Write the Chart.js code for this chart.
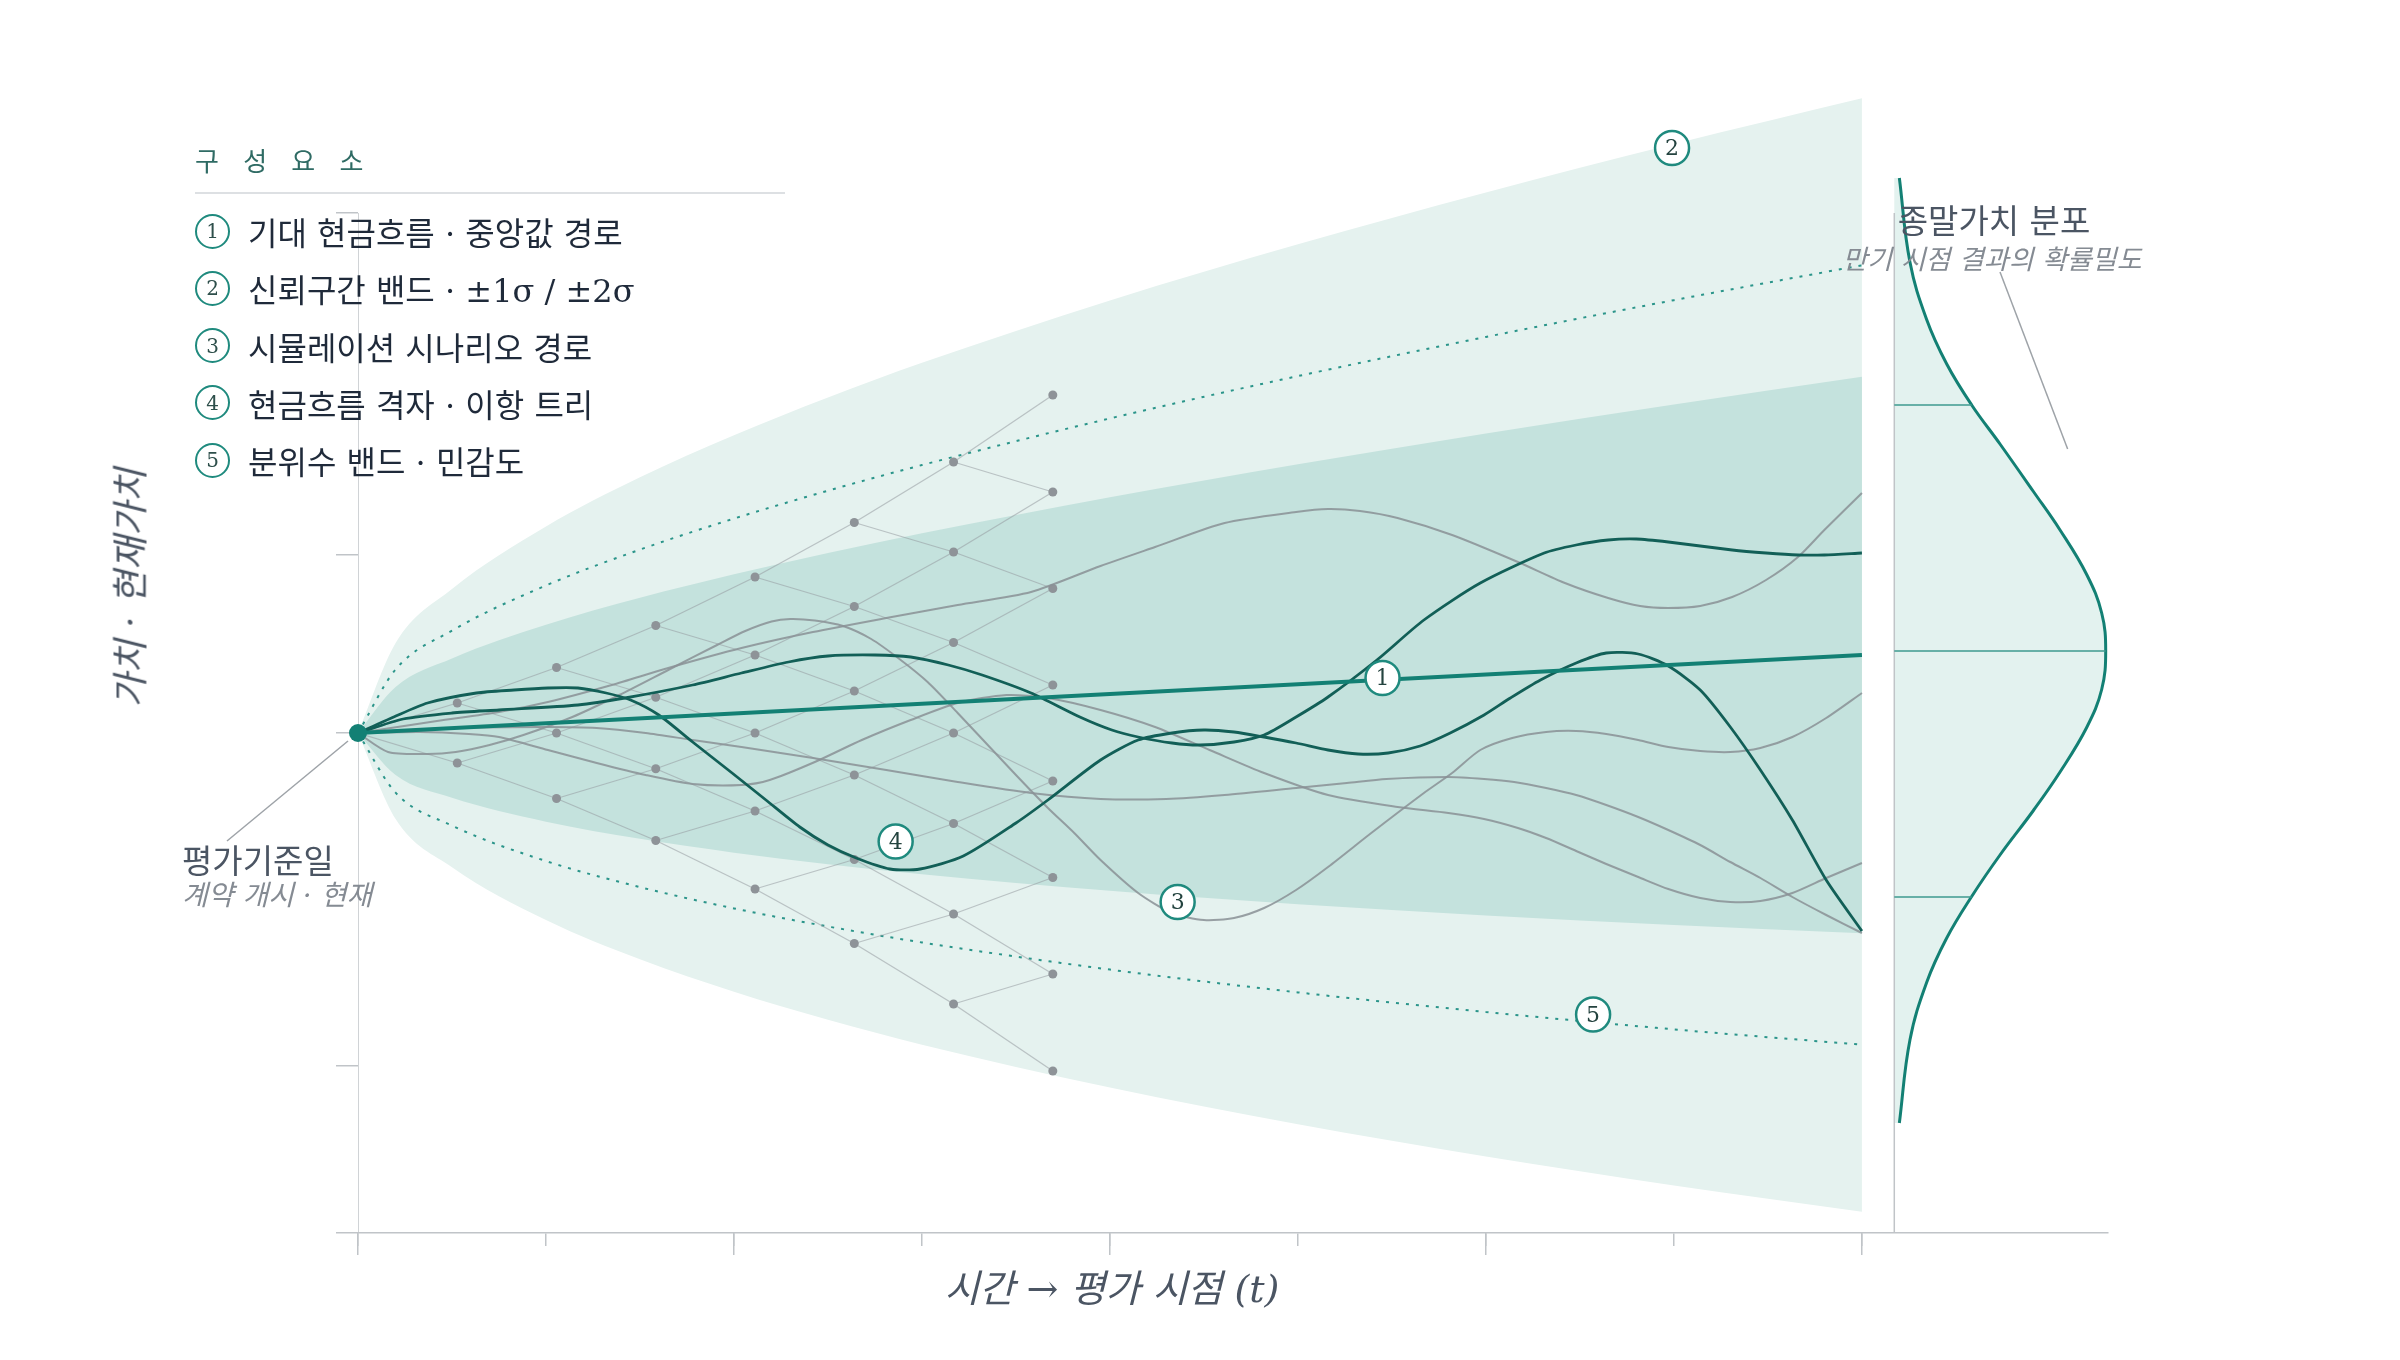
<!DOCTYPE html>
<html lang="ko">
<head>
<meta charset="utf-8">
<title>현금흐름 시뮬레이션 · 종말가치 분포</title>
<script src="https://cdn.jsdelivr.net/npm/chart.js@4.4.1/dist/chart.umd.min.js"></script>
<style>
  html, body { margin: 0; padding: 0; background: #fff; }
  #wrap { position: relative; width: 2400px; height: 1360px; overflow: hidden;
          font-family: 'DejaVu Serif', 'Noto Sans CJK KR', serif; }
  #chart { position: absolute; left: 0; top: 0; }
  .txt { position: absolute; white-space: nowrap; line-height: 1; }
  .row { position: absolute; left: 195px; height: 36px; display: flex; align-items: center; transform: translateY(-50%); }
  .row .num { width: 31px; height: 31px; border: 2.5px solid #1f8a7e; border-radius: 50%;
              display: flex; align-items: center; justify-content: center;
              font-size: 20px; color: #2e4f4b; background: #fff; }
  .row .lbl { margin-left: 18px; font-size: 32px; color: #1f2a3a; }
  .mk { position: absolute; transform: translate(-50%, -52%); font-size: 22px; color: #24433f; line-height: 1; }
</style>
</head>
<body>
<div id="wrap">
  <canvas id="chart" width="2400" height="1360"></canvas>

  <div class="txt" style="left:195px; top:162px; transform:translateY(-50%); font-size:26px; letter-spacing:8px; color:#2f6b64;">구 성 요 소</div>
  <div style="position:absolute; left:195px; top:192px; width:590px; height:2px; background:#dde0e3;"></div>

  <div class="txt" style="left:131px; top:588px; transform:translate(-50%,-50%) rotate(-90deg); font-size:37px; font-style:italic; color:#4b5563;">가치 · 현재가치</div>
  <div class="txt" style="left:1112px; top:1289px; transform:translate(-50%,-50%); font-size:38px; font-style:italic; color:#4b5563;">시간 → 평가 시점 (t)</div>

  <div class="txt" style="left:182px; top:861px; transform:translateY(-50%); font-size:33px; color:#4b5563;">평가기준일</div>
  <div class="txt" style="left:182px; top:896px; transform:translateY(-50%); font-size:28px; font-style:italic; color:#858b93;">계약 개시 · 현재</div>

  <div class="txt" style="left:1994px; top:221px; transform:translate(-50%,-50%); font-size:33px; color:#4b5563;">종말가치 분포</div>
  <div class="txt" style="left:1992px; top:259px; transform:translate(-50%,-50%); font-size:27px; font-style:italic; color:#858b93;">만기 시점 결과의 확률밀도</div>
</div>

<script>
// legend entries
const legendItems = [
  '기대 현금흐름 · 중앙값 경로',
  '신뢰구간 밴드 · ±1σ / ±2σ',
  '시뮬레이션 시나리오 경로',
  '현금흐름 격자 · 이항 트리',
  '분위수 밴드 · 민감도'
];

// axes
const xTicks = [0, 1, 2, 3, 4, 5, 6, 7, 8];
const xMajorTicks = [0, 2, 4, 6, 8];
const yTicks = [0, 33.4, 100, 135.6, 204];
const yAxisTop = 204;

// bands: time grid and boundaries
const bandTimes = [0, 0.2, 0.5, 1, 1.5, 2, 2.5, 3, 4, 5, 6, 7, 8];
const outerUpper = [100, 117.99, 128.81, 141.31, 151.13, 159.56, 167.11, 174.03, 186.52, 197.76, 208.11, 217.79, 226.93];
const outerLower = [100, 82.79, 73.15, 62.59, 54.73, 48.24, 42.65, 37.67, 29.08, 21.74, 15.29, 9.51, 4.27];
const innerUpper = [100, 109.19, 114.90, 121.63, 127.03, 131.73, 136.00, 139.94, 147.16, 153.76, 159.91, 165.72, 171.26];
const innerLower = [100, 91.59, 87.06, 82.27, 78.83, 76.07, 73.76, 71.76, 68.44, 65.74, 63.49, 61.58, 59.94];
const quantUpper = [100, 112.71, 120.47, 129.51, 136.68, 142.88, 148.46, 153.59, 162.92, 171.38, 179.21, 186.57, 193.55];
const quantLower = [100, 88.07, 81.49, 74.39, 69.18, 64.92, 61.30, 58.11, 52.68, 48.12, 44.19, 40.73, 37.65];

// expected (median) path
const medianTimes = [0, 8];
const medianValues = [100, 115.6];

// binomial lattice
const treeTimes = [0, 0.528, 1.056, 1.584, 2.112, 2.64, 3.168, 3.696];
const treeLevels = [
  [100],
  [106.0, 94.0],
  [113.1, 100, 86.9],
  [121.5, 107.15, 92.85, 78.5],
  [131.2, 115.6, 100, 84.4, 68.8],
  [142.1, 125.3, 108.4, 91.6, 74.7, 57.9],
  [154.2, 136.2, 118.1, 100, 81.9, 63.8, 45.8],
  [167.6, 148.2, 128.9, 109.6, 90.4, 71.1, 51.8, 32.4]
];

// simulated scenarios [t, value]
const pathA = [[0,100],[0.19,103.2],[0.37,106.0],[0.63,108.0],[0.83,108.6],[1.01,109.0],[1.17,109.0],[1.32,108.0],[1.45,106.6],[1.60,103.6],[1.78,98.2],[1.99,92.0],[2.17,86.6],[2.35,81.2],[2.50,77.6],[2.65,75.0],[2.83,72.8],[2.99,72.8],[3.22,75.4],[3.50,82.0],[3.67,86.6],[3.95,94.6],[4.15,98.6],[4.33,100.0],[4.50,100.6],[4.66,100.2],[4.82,99.2],[4.99,98.0],[5.16,96.6],[5.32,95.8],[5.48,96.0],[5.65,97.4],[5.81,100.0],[5.99,103.6],[6.13,107.0],[6.29,110.6],[6.48,114.0],[6.64,116.0],[6.81,115.8],[6.97,113.4],[7.14,108.6],[7.30,101.2],[7.46,92.6],[7.63,82.6],[7.81,70.6],[8,60.4]];
const pathB = [[0,100],[0.24,102.8],[0.50,104.0],[0.75,104.6],[1.17,105.6],[1.42,107.0],[1.78,109.6],[2.04,112.0],[2.29,114.2],[2.50,115.4],[2.75,115.6],[2.94,115.2],[3.14,113.6],[3.32,111.6],[3.58,108.0],[3.84,103.2],[4.01,100.6],[4.15,99.2],[4.33,98.0],[4.48,97.6],[4.66,98.2],[4.82,99.6],[4.99,103.2],[5.16,107.2],[5.42,114.6],[5.67,122.6],[5.97,130.0],[6.31,136.0],[6.48,137.6],[6.65,138.6],[6.80,138.8],[6.97,138.2],[7.31,136.6],[7.49,136.0],[7.66,135.6],[7.80,135.6],[8,136.0]];
const scenario1 = [[0,100],[0.42,102.4],[0.75,104.2],[1.01,106.2],[1.35,109.6],[1.65,113.0],[2.04,117.0],[2.42,120.2],[2.81,123.0],[3.19,125.6],[3.58,128.2],[3.95,133.4],[4.24,137.2],[4.61,142.0],[4.99,144.2],[5.16,144.8],[5.33,144.4],[5.53,143.0],[5.82,139.6],[6.17,134.2],[6.42,130.0],[6.65,127.0],[6.82,125.4],[6.97,125.0],[7.14,125.4],[7.31,127.2],[7.49,130.6],[7.66,135.2],[7.80,140.6],[8,148.0]];
const scenario2 = [[0,100],[0.33,100.2],[0.59,99.8],[0.75,99.2],[1.01,96.6],[1.27,94.0],[1.53,91.6],[1.78,89.8],[2.04,89.6],[2.19,90.6],[2.43,94.2],[2.68,98.6],[2.94,102.6],[3.19,106.0],[3.45,107.6],[3.67,107.0],[3.95,104.6],[4.24,101.2],[4.53,96.6],[4.82,92.0],[5.16,87.6],[5.53,85.2],[5.80,84.0],[5.99,82.8],[6.17,81.0],[6.32,79.0],[6.48,76.4],[6.64,73.8],[6.81,71.2],[6.97,68.8],[7.14,67.0],[7.30,66.2],[7.46,66.4],[7.63,68.0],[7.81,71.0],[8,74.0]];
const scenario3 = [[0,100],[0.50,101.0],[1.01,101.2],[1.27,101.0],[1.53,100.0],[1.78,98.6],[2.04,97.2],[2.42,95.0],[2.81,92.6],[3.19,90.2],[3.58,88.0],[3.95,86.8],[4.30,86.8],[4.61,87.6],[4.99,89.0],[5.26,90.0],[5.47,90.8],[5.80,91.2],[5.99,90.8],[6.15,90.2],[6.32,89.0],[6.48,87.6],[6.64,85.6],[6.81,83.2],[6.97,80.6],[7.14,77.6],[7.30,74.2],[7.46,71.0],[7.63,67.2],[7.81,63.6],[8,60.0]];
const scenario4 = [[0,100],[0.16,96.2],[0.37,95.8],[0.52,96.2],[0.70,97.6],[0.88,99.6],[1.14,103.2],[1.39,107.6],[1.65,112.6],[1.91,117.6],[2.06,120.4],[2.20,122.3],[2.30,122.8],[2.43,122.5],[2.58,121.4],[2.73,118.8],[2.88,114.8],[3.03,110.2],[3.19,104.0],[3.35,97.6],[3.51,91.2],[3.67,85.0],[3.81,80.0],[3.95,74.6],[4.15,68.0],[4.33,64.0],[4.50,62.6],[4.66,63.0],[4.82,65.0],[4.99,68.6],[5.16,73.2],[5.39,80.0],[5.67,88.0],[5.82,92.0],[5.97,96.6],[6.14,99.0],[6.32,100.2],[6.48,100.4],[6.64,99.8],[6.81,98.6],[6.97,97.2],[7.14,96.4],[7.30,96.2],[7.46,97.0],[7.63,99.2],[7.81,103.0],[8,108.0]];

// terminal density (value level -> relative density)
const densityLevels = [211, 194.2, 182.7, 173.8, 165.6, 157.8, 148.3, 140.6, 131.7, 124, 116.4, 108.7, 101.1, 92.2, 84.5, 75.6, 67.3, 59, 50.1, 38.6, 22];
const densityValues = [0.024, 0.074, 0.153, 0.248, 0.366, 0.5, 0.658, 0.784, 0.91, 0.981, 1, 0.981, 0.91, 0.784, 0.658, 0.5, 0.366, 0.248, 0.153, 0.074, 0.024];
const densityGuideLevels = [165.6, 116.4, 67.2];
const densityGuideValues = [0.366, 1, 0.366];

// numbered callouts on the chart
const markerLabels = ['1', '2', '3', '4', '5'];
const markerTimes = [5.45, 6.99, 4.36, 2.86, 6.57];
const markerValues = [111.0, 217.0, 66.2, 78.3, 43.7];

const TEAL = '#138074';
const DARK = '#125f57';
const AXIS = '#c0c4c8';

const zip = (ts, vs) => ts.map((t, i) => ({ x: t, y: vs[i] }));
const pairs = arr => arr.map(([t, v]) => ({ x: t, y: v }));

const treeEdges = [];
for (let k = 0; k < treeLevels.length - 1; k++) {
  treeLevels[k].forEach((v, j) => {
    [j, j + 1].forEach(c => {
      treeEdges.push({ x: treeTimes[k], y: v }, { x: treeTimes[k + 1], y: treeLevels[k + 1][c] }, { x: null, y: null });
    });
  });
}
const treeNodes = treeTimes.flatMap((t, k) => treeLevels[k].map(v => ({ x: t, y: v })));

const densityGuides = [];
densityGuideLevels.forEach((lv, i) => {
  densityGuides.push({ x: 0, y: lv }, { x: densityGuideValues[i], y: lv }, { x: null, y: null });
});

const band = (data, extra) => Object.assign({ data, borderWidth: 0, pointRadius: 0, fill: false, cubicInterpolationMode: 'monotone' }, extra);
const grayPath = data => ({ data: pairs(data), borderColor: 'rgba(138,144,149,0.85)', borderWidth: 2, tension: 0.25, order: 14 });

const datasets = [
  band(zip(bandTimes, outerUpper), { fill: '+1', backgroundColor: '#e5f2ef', order: 20 }),
  band(zip(bandTimes, outerLower), { order: 20 }),
  band(zip(bandTimes, innerUpper), { fill: '+1', backgroundColor: '#c4e2dd', order: 19 }),
  band(zip(bandTimes, innerLower), { order: 19 }),
  band(zip(bandTimes, quantUpper), { borderWidth: 2, borderColor: '#2b958a', borderDash: [3, 7], order: 18 }),
  band(zip(bandTimes, quantLower), { borderWidth: 2, borderColor: '#2b958a', borderDash: [3, 7], order: 18 }),
  { data: densityLevels.map((lv, i) => ({ x: densityValues[i], y: lv })), xAxisID: 'xd', indexAxis: 'y',
    fill: 'origin', backgroundColor: '#e3f2ef', borderColor: TEAL, borderWidth: 3, tension: 0.4, order: 18 },
  { data: densityGuides, xAxisID: 'xd', borderColor: '#3f9a90', borderWidth: 1.5, order: 17 },
  { data: [{ x: 0, y: 0 }, { x: 0, y: yAxisTop }], xAxisID: 'xd', borderColor: AXIS, borderWidth: 1.5, order: 17 },
  { data: [{ x: 0, y: 0 }, { x: 0, y: yAxisTop }], borderColor: AXIS, borderWidth: 1.5, order: 17 },
  { data: treeEdges, borderColor: 'rgba(150,155,160,0.55)', borderWidth: 1.3, order: 16 },
  { data: treeNodes, showLine: false, pointRadius: 4.5, pointBackgroundColor: '#8e9398', pointBorderWidth: 0, order: 15 },
  grayPath(scenario1), grayPath(scenario2), grayPath(scenario3), grayPath(scenario4),
  { data: pairs(pathA), borderColor: DARK, borderWidth: 2.8, tension: 0.25, order: 13 },
  { data: pairs(pathB), borderColor: DARK, borderWidth: 2.8, tension: 0.25, order: 13 },
  { data: zip(medianTimes, medianValues), borderColor: TEAL, borderWidth: 4, order: 12 },
  { data: [{ x: medianTimes[0], y: medianValues[0] }], showLine: false, pointRadius: 9,
    pointBackgroundColor: TEAL, pointBorderWidth: 0, clip: false, order: 11 },
  { data: zip(markerTimes, markerValues), showLine: false, pointRadius: 17, pointBackgroundColor: '#fff',
    pointBorderColor: '#1f8a7e', pointBorderWidth: 2.5, clip: false, order: 10 }
];
const MARKER_SET = datasets.length - 1;

// leader lines from the text notes to the chart
const originCallout = [0, 100];
const densityCallout = [0.82, 156.8];
const leaders = {
  id: 'leaders',
  afterDatasetsDraw(chart) {
    const { ctx, scales } = chart;
    ctx.save();
    ctx.strokeStyle = '#9ea3a8';
    ctx.lineWidth = 1.5;
    const ox = scales.x.getPixelForValue(originCallout[0]);
    const oy = scales.y.getPixelForValue(originCallout[1]);
    ctx.beginPath();
    ctx.moveTo(227, 841);
    ctx.lineTo(ox - 10, oy + 8);
    ctx.stroke();
    ctx.beginPath();
    ctx.moveTo(2000, 272);
    ctx.lineTo(scales.xd.getPixelForValue(densityCallout[0]), scales.y.getPixelForValue(densityCallout[1]));
    ctx.stroke();
    ctx.restore();
  }
};

const setTicks = list => scale => { scale.ticks = list.map(v => ({ value: v })); };

const chart = new Chart(document.getElementById('chart'), {
  type: 'line',
  data: { datasets },
  options: {
    responsive: false,
    devicePixelRatio: 1,
    animation: false,
    events: [],
    layout: { padding: { top: 58, right: 292, bottom: 0, left: 0 } },
    elements: { point: { radius: 0 }, line: { tension: 0 } },
    plugins: { legend: { display: false }, tooltip: { enabled: false } },
    scales: {
      x: {
        type: 'linear', position: 'bottom', weight: 1, min: 0, max: 9.309,
        afterBuildTicks: setTicks(xTicks),
        afterFit: s => { s.height = 127; },
        ticks: { display: false },
        grid: { drawOnChartArea: false, drawTicks: true, tickLength: 13, color: AXIS, lineWidth: 1.5 },
        border: { display: true, color: AXIS, width: 1.5 }
      },
      xMajor: {
        type: 'linear', axis: 'x', position: 'bottom', weight: 0, min: 0, max: 9.309,
        afterBuildTicks: setTicks(xMajorTicks),
        afterFit: s => { s.height = 0; },
        ticks: { display: false },
        grid: { drawOnChartArea: false, drawTicks: true, tickLength: 22, color: AXIS, lineWidth: 1.5 },
        border: { display: false }
      },
      xd: { type: 'linear', axis: 'x', position: 'bottom', display: false, min: -7.267, max: 1.0109 },
      y: {
        type: 'linear', min: 0, max: 235,
        afterBuildTicks: setTicks(yTicks),
        afterFit: s => { s.width = 358; },
        ticks: { display: false },
        grid: { drawOnChartArea: false, drawTicks: true, tickLength: 22, color: AXIS, lineWidth: 1.5 },
        border: { display: false }
      }
    }
  },
  plugins: [leaders]
});

const wrap = document.getElementById('wrap');

legendItems.forEach((label, i) => {
  const row = document.createElement('div');
  row.className = 'row';
  row.style.top = (231 + i * 57.3) + 'px';
  row.innerHTML = `<div class="num">${i + 1}</div><div class="lbl">${label}</div>`;
  wrap.appendChild(row);
});

chart.getDatasetMeta(MARKER_SET).data.forEach((pt, i) => {
  const d = document.createElement('div');
  d.className = 'mk';
  d.textContent = markerLabels[i];
  d.style.left = pt.x + 'px';
  d.style.top = pt.y + 'px';
  wrap.appendChild(d);
});
</script>
</body>
</html>
